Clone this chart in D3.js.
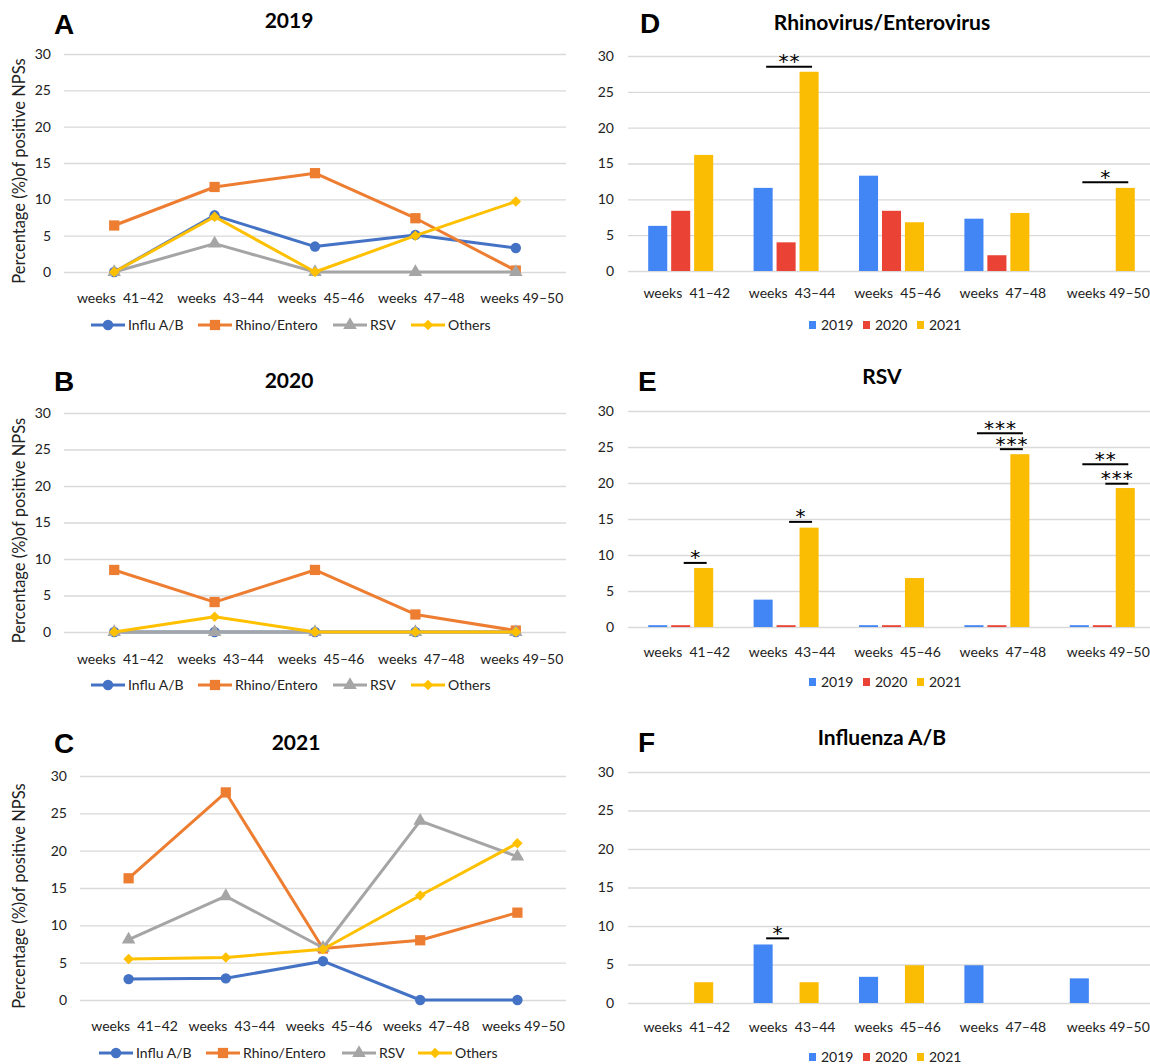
<!DOCTYPE html>
<html>
<head>
<meta charset="utf-8">
<script src="https://cdn.jsdelivr.net/npm/d3@7"></script>
<style>
  body { margin: 0; background: #fff; }
  text { font-family: Lato, "Open Sans", sans-serif; fill: #000; }
  .grid line { stroke: #d9d9d9; stroke-width: 1.3; }
  .grid text { font-size: 14px; fill: #222; }
  .xaxis text { font-size: 14px; fill: #222; }
  .title { font-size: 21px; font-weight: bold; text-anchor: middle; }
  .letter { font-family: "Liberation Sans", Arial, sans-serif; font-size: 28px; font-weight: bold; }
  .ylabel { font-size: 16.5px; fill: #222; text-anchor: middle; }
  .legend text { font-size: 14px; fill: #222; }
  .sig { font-family: "DejaVu Sans", sans-serif; font-size: 20px; text-anchor: middle; letter-spacing: 1px; }
</style>
</head>
<body>
<svg width="1150" height="1064"></svg>
<script>
// categories and ticks
var weeks = ["weeks  41–42", "weeks  43–44", "weeks  45–46", "weeks  47–48", "weeks 49–50"];
var yTicks = [0, 5, 10, 15, 20, 25, 30];

var seriesNames  = ["Influ A/B", "Rhino/Entero", "RSV", "Others"];
var seriesColors = ["#4472C4", "#ED7D31", "#A5A5A5", "#FFC000"];
var years      = ["2019", "2020", "2021"];
var yearColors = ["#4285F4", "#EA4335", "#FBBC04"];

// A - 2019
var influ2019  = [0, 7.8, 3.5, 5.1, 3.3];
var rhino2019  = [6.4, 11.7, 13.6, 7.4, 0.2];
var rsv2019    = [0, 3.9, 0, 0, 0];
var others2019 = [0, 7.6, 0, 5.0, 9.7];
// B - 2020
var influ2020  = [0, 0, 0, 0, 0];
var rhino2020  = [8.5, 4.1, 8.5, 2.4, 0.2];
var rsv2020    = [0, 0, 0, 0, 0];
var others2020 = [0, 2.1, 0, 0, 0];
// C - 2021
var influ2021  = [2.8, 2.9, 5.2, 0, 0];
var rhino2021  = [16.3, 27.8, 6.9, 8.0, 11.7];
var rsv2021    = [8.1, 13.9, 7.0, 24.0, 19.2];
var others2021 = [5.5, 5.7, 6.8, 14.0, 21.0];

// D - Rhinovirus/Enterovirus bars
var rhinoBars2019 = [6.3, 11.6, 13.3, 7.3, 0];
var rhinoBars2020 = [8.4, 4.0, 8.4, 2.2, 0];
var rhinoBars2021 = [16.2, 27.8, 6.8, 8.1, 11.6];
// E - RSV bars
var rsvBars2019 = [0.25, 3.8, 0.25, 0.25, 0.25];
var rsvBars2020 = [0.25, 0.25, 0.25, 0.25, 0.25];
var rsvBars2021 = [8.2, 13.8, 6.8, 24.0, 19.3];
// F - Influenza bars
var fluBars2019 = [0, 7.6, 3.4, 4.9, 3.2];
var fluBars2020 = [0, 0, 0, 0, 0];
var fluBars2021 = [2.7, 2.7, 4.9, 0, 0];

// significance marks: week index, compared years, level (%), label
var sigRhino = [
  {week: 1, from: "2019", to: "2021", y: 28.5, label: "**"},
  {week: 4, from: "2019", to: "2021", y: 12.4, label: "*"}
];
var sigRsv = [
  {week: 0, from: "2020", to: "2021", y: 8.9,  label: "*"},
  {week: 1, from: "2020", to: "2021", y: 14.6, label: "*"},
  {week: 3, from: "2019", to: "2021", y: 26.9, label: "***"},
  {week: 3, from: "2020", to: "2021", y: 24.7, label: "***"},
  {week: 4, from: "2019", to: "2021", y: 22.6, label: "**"},
  {week: 4, from: "2020", to: "2021", y: 19.9, label: "***"}
];
var sigFlu = [
  {week: 1, from: "2019", to: "2020", y: 8.4, label: "*"}
];

var svg = d3.select("svg");

var symbols = [
  d3.symbol().type(d3.symbolCircle).size(85),
  d3.symbol().type(d3.symbolSquare).size(105),
  d3.symbol().type(d3.symbolTriangle).size(80),
  d3.symbol().type(d3.symbolSquare).size(55)
];
var symbolRotate = [0, 0, 0, 45];

function yAxisGrid(g, y, left, right, tickRight) {
  g.append("g")
     .attr("class", "grid")
     .attr("transform", "translate(" + left + ",0)")
     .call(d3.axisLeft(y).tickValues(yTicks).tickSizeInner(-(right - left)).tickSizeOuter(0)
            .tickPadding(left - tickRight))
     .call(function(s) { s.select(".domain").remove(); });
}

function xAxisLabels(g, x, y0, labY, dx) {
  var ax = g.append("g")
     .attr("class", "xaxis")
     .attr("transform", "translate(0," + y0 + ")")
     .call(d3.axisBottom(x).tickSize(0));
  ax.select(".domain").remove();
  ax.selectAll("text")
     .attr("y", labY - y0)
     .attr("dy", null)
     .attr("dx", dx)
     .style("white-space", "pre");
}

function headings(g, cfg) {
  g.append("text").attr("class", "letter").attr("x", cfg.letterX).attr("y", cfg.letterY).text(cfg.letter);
  g.append("text").attr("class", "title").attr("x", cfg.titleX).attr("y", cfg.titleY).text(cfg.title);
}

function linePanel(cfg, series) {
  var g = svg.append("g");
  var x = d3.scaleBand().domain(weeks).range([cfg.left, cfg.right]);
  var y = d3.scaleLinear().domain([0, 30]).range([cfg.y0, cfg.y30]);

  headings(g, cfg);
  yAxisGrid(g, y, cfg.left, cfg.right, cfg.tickRight);
  xAxisLabels(g, x, cfg.y0, cfg.labY, 6);

  g.append("text")
     .attr("class", "ylabel")
     .attr("transform", "translate(25," + ((cfg.y0 + cfg.y30) / 2 + 8) + ") rotate(-90)")
     .text("Percentage (%)of positive NPSs");

  var line = d3.line()
     .x(function(d, i) { return x(weeks[i]) + x.bandwidth() / 2; })
     .y(function(d) { return y(d); });

  series.forEach(function(vals, k) {
    g.append("path")
       .datum(vals)
       .attr("d", line)
       .attr("fill", "none")
       .attr("stroke", seriesColors[k])
       .attr("stroke-width", 3)
       .attr("stroke-linejoin", "round");
    g.selectAll(".m" + k)
       .data(vals)
       .enter().append("path")
         .attr("class", "m" + k)
         .attr("d", symbols[k])
         .attr("fill", seriesColors[k])
         .attr("transform", function(d, i) {
           return "translate(" + (x(weeks[i]) + x.bandwidth() / 2) + "," + y(d) + ") rotate(" + symbolRotate[k] + ")";
         });
  });

  // legend
  var lg = g.append("g").attr("class", "legend");
  seriesNames.forEach(function(name, k) {
    var lx = cfg.legendX[k];
    lg.append("line")
       .attr("x1", lx).attr("x2", lx + 34)
       .attr("y1", cfg.legendY).attr("y2", cfg.legendY)
       .attr("stroke", seriesColors[k]).attr("stroke-width", 3);
    lg.append("path")
       .attr("d", symbols[k])
       .attr("fill", seriesColors[k])
       .attr("transform", "translate(" + (lx + 17) + "," + cfg.legendY + ") rotate(" + symbolRotate[k] + ")");
    lg.append("text")
       .attr("x", lx + 37).attr("y", cfg.legendY + 5)
       .text(name);
  });
}

function barPanel(cfg, bars, sigs) {
  var g = svg.append("g");
  var x0 = d3.scaleBand().domain(weeks).range([cfg.left, cfg.left + 5 * 105.4]);
  var x1 = d3.scaleBand().domain(years).range([-32.5, 32.5]).paddingInner(0.17);
  var y = d3.scaleLinear().domain([0, 30]).range([cfg.y0, cfg.y30]);

  headings(g, cfg);
  yAxisGrid(g, y, cfg.left, 1160, cfg.tickRight);
  xAxisLabels(g, x0, cfg.y0, cfg.labY, 6);

  function cx(w) { return x0(weeks[w]) + x0.bandwidth() / 2; }

  years.forEach(function(yr, k) {
    g.selectAll(".b" + k)
       .data(bars[k])
       .enter().append("rect")
         .attr("class", "b" + k)
         .attr("x", function(d, i) { return cx(i) + x1(yr); })
         .attr("width", x1.bandwidth())
         .attr("y", function(d) { return y(d); })
         .attr("height", function(d) { return y(0) - y(d); })
         .attr("fill", yearColors[k]);
  });

  sigs.forEach(function(s) {
    var xa = cx(s.week) + x1(s.from) + x1.bandwidth() / 2 + 3,
        xb = cx(s.week) + x1(s.to) + x1.bandwidth() / 2 + 3;
    g.append("line")
       .attr("x1", xa).attr("x2", xb)
       .attr("y1", y(s.y)).attr("y2", y(s.y))
       .attr("stroke", "#000").attr("stroke-width", 2);
    g.append("text")
       .attr("class", "sig")
       .attr("x", (xa + xb) / 2 + 0.5)
       .attr("y", y(s.y) + 1.5)
       .text(s.label);
  });

  // legend
  var lg = g.append("g").attr("class", "legend");
  years.forEach(function(yr, k) {
    var lx = 809 + k * 54;
    lg.append("rect")
       .attr("x", lx).attr("y", cfg.legendY - 4)
       .attr("width", 7).attr("height", 8)
       .attr("fill", yearColors[k]);
    lg.append("text")
       .attr("x", lx + 12).attr("y", cfg.legendY + 5)
       .text(yr);
  });
}

linePanel({letter: "A", letterX: 54, letterY: 34, title: "2019", titleX: 289, titleY: 28,
           left: 64, right: 566, y0: 272, y30: 54, tickRight: 51, labY: 303,
           legendY: 325, legendX: [91, 198, 333, 411]},
          [influ2019, rhino2019, rsv2019, others2019]);
linePanel({letter: "B", letterX: 54, letterY: 391, title: "2020", titleX: 289, titleY: 388,
           left: 64, right: 566, y0: 632, y30: 413, tickRight: 51, labY: 664,
           legendY: 685, legendX: [91, 198, 333, 411]},
          [influ2020, rhino2020, rsv2020, others2020]);
linePanel({letter: "C", letterX: 54, letterY: 753, title: "2021", titleX: 296, titleY: 750,
           left: 80, right: 566, y0: 1000, y30: 776, tickRight: 67, labY: 1031,
           legendY: 1053, legendX: [99, 206, 342, 418]},
          [influ2021, rhino2021, rsv2021, others2021]);

barPanel({letter: "D", letterX: 640, letterY: 33, title: "Rhinovirus/Enterovirus", titleX: 882, titleY: 30,
          left: 628, y0: 271, y30: 56, tickRight: 614, labY: 298, legendY: 325},
         [rhinoBars2019, rhinoBars2020, rhinoBars2021], sigRhino);
barPanel({letter: "E", letterX: 638, letterY: 391, title: "RSV", titleX: 882, titleY: 384,
          left: 628, y0: 627, y30: 411, tickRight: 614, labY: 657, legendY: 682},
         [rsvBars2019, rsvBars2020, rsvBars2021], sigRsv);
barPanel({letter: "F", letterX: 638, letterY: 752, title: "Influenza A/B", titleX: 882, titleY: 745,
          left: 628, y0: 1003, y30: 772, tickRight: 614, labY: 1032, legendY: 1057},
         [fluBars2019, fluBars2020, fluBars2021], sigFlu);
</script>
</body>
</html>
